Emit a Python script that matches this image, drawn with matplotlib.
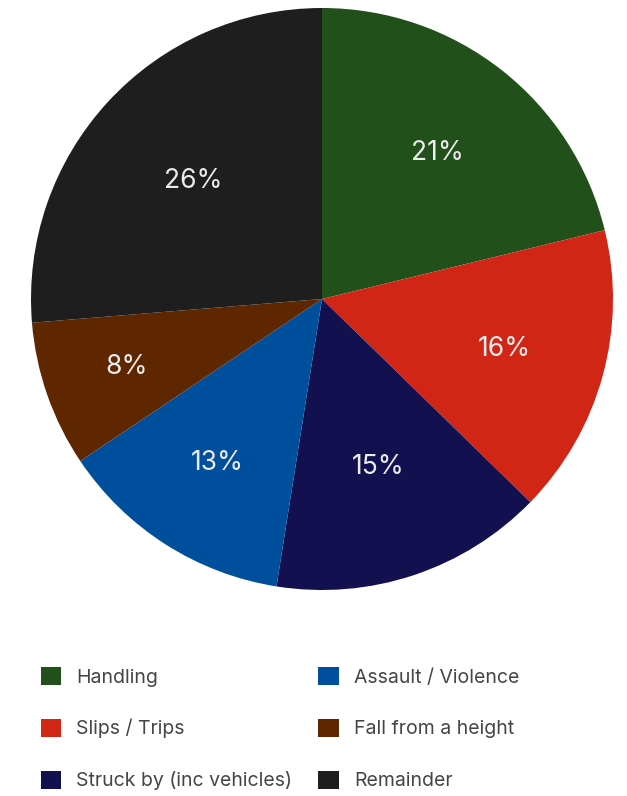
import matplotlib
matplotlib.use("Agg")
import matplotlib.pyplot as plt
import numpy as np

categories = ["Handling", "Slips / Trips", "Struck by (inc vehicles)",
              "Assault / Violence", "Fall from a height", "Remainder"]
shares = [21.2, 16.1, 15.2, 13.1, 8.1, 26.3]
colors = ["#22501a", "#d12616", "#131050", "#004f9c", "#5f2700", "#1e1e1e"]
# radial placement of each percentage label, as a fraction of the radius
label_radius = [0.64, 0.65, 0.61, 0.67, 0.71, 0.60]

W, H = 627, 796
fig = plt.figure(figsize=(W / 100, H / 100), dpi=100)
fig.patch.set_facecolor("white")

cx, cy, r = 322, 299, 291
ax = fig.add_axes([(cx - r) / W, (H - cy - r) / H, 2 * r / W, 2 * r / H])

wedges, texts, autotexts = ax.pie(
    shares, colors=colors, startangle=90, counterclock=False,
    autopct="%.0f%%", pctdistance=0.62, radius=1.0,
    wedgeprops=dict(linewidth=0),
    textprops=dict(color="#ececec", fontsize=19, family="Inter", fontweight="normal"),
)
for w, t, d in zip(wedges, autotexts, label_radius):
    mid = np.deg2rad((w.theta1 + w.theta2) / 2)
    t.set_position((d * np.cos(mid), d * np.sin(mid)))

ax.set_xlim(-1, 1)
ax.set_ylim(-1, 1)
ax.set_aspect("equal")

leg = fig.legend(
    wedges, categories, ncol=2, frameon=False,
    loc="upper left", bbox_to_anchor=(41 / W, 1 - 667 / H),
    prop=dict(family="Inter", size=14, weight="normal"),
    labelcolor="#454545",
    handlelength=1.04, handleheight=1.04, handletextpad=0.78,
    columnspacing=1.34, labelspacing=1.66, borderpad=0, borderaxespad=0,
)

fig.savefig("out.png", dpi=100, facecolor="white")
